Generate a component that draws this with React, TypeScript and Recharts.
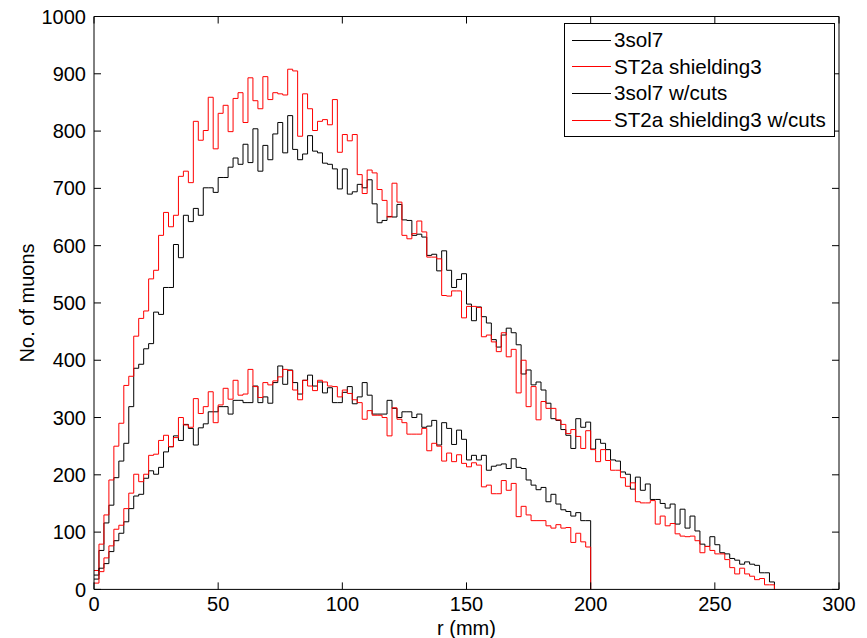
import { LineChart, Line, XAxis, YAxis, Legend, Label } from "recharts";

const FONT = "'Liberation Sans', Arial, Helvetica, sans-serif";

// histogram bins are 2 mm wide, starting at r = 0
const BIN_MM = 2;

const SOL7 = [
  25, 68, 116, 147, 195, 224, 255, 319, 386, 393, 420, 429, 484, 480, 527, 527, 602, 579, 653, 642,
  665, 653, 701, 701, 693, 719, 719, 737, 753, 742, 777, 745, 804, 730, 775, 750, 795, 815, 762, 827,
  768, 750, 760, 792, 765, 762, 744, 742, 734, 699, 734, 690, 694, 707, 701, 715, 673, 640, 644, 651,
  650, 672, 645, 644, 618, 620, 615, 583, 585, 556, 591, 557, 527, 541, 551, 498, 469, 493, 476, 465,
  436, 423, 444, 456, 448, 427, 376, 383, 357, 362, 348, 325, 298, 295, 279, 269, 246, 298, 283, 292,
  245, 262, 255, 244, 226, 224, 205, 201, 175, 196, 173, 184, 157, 157, 150, 142, 149, 114, 140, 107,
  128, 102, 79, 75, 92, 78, 64, 62, 54, 51, 44, 48, 44, 42, 29, 29, 13,
];

const ST2A = [
  33, 79, 130, 191, 250, 290, 356, 372, 442, 473, 486, 542, 557, 618, 658, 633, 653, 721, 730, 710,
  817, 784, 801, 859, 769, 831, 845, 799, 857, 867, 815, 893, 853, 839, 895, 855, 867, 865, 863, 908,
  905, 791, 865, 839, 801, 817, 820, 811, 855, 763, 794, 783, 794, 724, 691, 732, 727, 698, 679, 650,
  709, 676, 618, 612, 621, 643, 624, 580, 580, 577, 513, 512, 521, 521, 474, 494, 494, 492, 441, 444,
  432, 415, 448, 406, 419, 343, 400, 319, 354, 296, 328, 316, 316, 296, 288, 272, 279, 267, 246, 277,
  244, 223, 244, 225, 208, 208, 195, 180, 186, 153, 151, 151, 155, 114, 128, 111, 115, 97, 93, 92,
  93, 85, 64, 75, 68, 62, 62, 52, 38, 27, 37, 27, 23, 17, 19, 8, 8,
];

const SOL7_CUTS = [
  18, 37, 45, 66, 85, 98, 118, 141, 163, 166, 194, 207, 201, 213, 240, 249, 268, 260, 288, 281,
  252, 282, 289, 310, 310, 319, 319, 306, 330, 330, 326, 326, 355, 326, 336, 325, 361, 390, 358, 383,
  361, 341, 365, 374, 355, 362, 343, 352, 326, 326, 344, 354, 324, 336, 361, 339, 306, 306, 306, 330,
  316, 300, 310, 310, 300, 306, 283, 285, 295, 252, 291, 281, 253, 278, 262, 226, 234, 226, 234, 208,
  215, 217, 219, 211, 228, 213, 211, 191, 182, 174, 178, 153, 166, 149, 139, 136, 128, 134, 120, 120,
];

const ST2A_CUTS = [
  11, 31, 55, 76, 105, 112, 141, 168, 201, 188, 201, 234, 236, 260, 269, 249, 265, 300, 287, 283,
  333, 307, 319, 345, 291, 322, 351, 332, 365, 339, 341, 384, 354, 335, 361, 357, 364, 371, 384, 382,
  348, 331, 365, 355, 347, 365, 362, 355, 354, 336, 348, 342, 331, 326, 297, 312, 304, 304, 300, 268,
  317, 297, 291, 271, 271, 271, 281, 242, 255, 250, 224, 238, 223, 235, 220, 214, 221, 217, 179, 182,
  167, 167, 190, 173, 185, 127, 145, 130, 120, 120, 120, 111, 107, 113, 107, 108, 82, 98, 83, 74,
];

const X_TICKS = [0, 50, 100, 150, 200, 250, 300];
const Y_TICKS = [0, 100, 200, 300, 400, 500, 600, 700, 800, 900, 1000];

const SERIES = [
  { key: "sol7", name: "3sol7", color: "#000000", values: SOL7 },
  { key: "st2a", name: "ST2a shielding3", color: "#ff0000", values: ST2A },
  { key: "sol7cuts", name: "3sol7 w/cuts", color: "#000000", values: SOL7_CUTS },
  { key: "st2acuts", name: "ST2a shielding3 w/cuts", color: "#ff0000", values: ST2A_CUTS },
];

// one row per bin edge; each series drops to 0 at its last edge
const nBins = Math.max(...SERIES.map((s) => s.values.length));
const data: Record<string, number>[] = [];
for (let i = 0; i <= nBins; i++) {
  const row: Record<string, number> = { r: i * BIN_MM };
  SERIES.forEach((s) => {
    if (i < s.values.length) row[s.key] = s.values[i];
    else if (i === s.values.length) row[s.key] = 0;
  });
  data.push(row);
}

const seriesOrder = (name: string) => SERIES.findIndex((s) => s.name === name);

function LegendBox({ payload }: any) {
  // keep the plotting order, not the alphabetical one
  const items = [...(payload || [])].sort((a: any, b: any) => seriesOrder(a.value) - seriesOrder(b.value));
  return (
    <div
      style={{
        boxSizing: "border-box",
        width: 271,
        border: "1px solid #000",
        background: "#fff",
        padding: "3px 4px 3px 7px",
        fontFamily: FONT,
        fontSize: 20.6,
        color: "#000",
      }}
    >
      {items.map((p: any) => (
        <div key={p.value} style={{ display: "flex", alignItems: "center", height: 26.6 }}>
          <svg width={39} height={3} style={{ display: "block" }}>
            <line x1={0} y1={1.5} x2={39} y2={1.5} stroke={p.color} strokeWidth={1} />
          </svg>
          <span style={{ marginLeft: 3, whiteSpace: "nowrap", lineHeight: "20px" }}>{p.value}</span>
        </div>
      ))}
    </div>
  );
}

const tickStyle = { fontSize: 20, fill: "#000", fontFamily: FONT };
const axisStroke = { stroke: "#000", strokeWidth: 1 };

export default function App() {
  return (
    <div>
      <style>{`body{margin:0;overflow:hidden;background:#fff}`}</style>
      <LineChart
        width={867}
        height={638}
        data={data}
        margin={{ top: 15.5, right: 27, bottom: 8.6, left: 0 }}
      >
        <XAxis
          dataKey="r"
          type="number"
          domain={[0, 300]}
          ticks={X_TICKS}
          interval={0}
          height={40}
          tickSize={-7}
          tickMargin={14.6}
          tick={tickStyle}
          axisLine={axisStroke}
          tickLine={axisStroke}
          allowDataOverflow
        >
          <Label
            content={(props: any) => {
              const vb = props.viewBox || { x: 94, y: 589.4, width: 745 };
              return (
                <text
                  x={vb.x + vb.width / 2}
                  y={vb.y + 38.6}
                  textAnchor="middle"
                  dominantBaseline="central"
                  fontSize={20}
                  fontFamily={FONT}
                  fill="#000"
                >
                  r (mm)
                </text>
              );
            }}
          />
        </XAxis>
        <XAxis
          xAxisId="top"
          orientation="top"
          dataKey="r"
          type="number"
          domain={[0, 300]}
          ticks={X_TICKS}
          interval={0}
          height={1}
          tickSize={-7}
          tickFormatter={() => ""}
          axisLine={axisStroke}
          tickLine={axisStroke}
          allowDataOverflow
        />
        <YAxis
          type="number"
          domain={[0, 1000]}
          ticks={Y_TICKS}
          interval={0}
          width={94}
          tickSize={-7}
          tickMargin={15}
          tick={tickStyle}
          axisLine={axisStroke}
          tickLine={axisStroke}
          allowDataOverflow
        >
          <Label
            content={(props: any) => {
              const vb = props.viewBox || { x: 0, y: 16.5, width: 94, height: 573 };
              const cx = vb.x + 27;
              const cy = vb.y + vb.height / 2;
              return (
                <text
                  x={cx}
                  y={cy}
                  transform={`rotate(-90 ${cx} ${cy})`}
                  textAnchor="middle"
                  dominantBaseline="central"
                  fontSize={20}
                  fontFamily={FONT}
                  fill="#000"
                >
                  No. of muons
                </text>
              );
            }}
          />
        </YAxis>
        <YAxis
          yAxisId="right"
          orientation="right"
          type="number"
          domain={[0, 1000]}
          ticks={Y_TICKS}
          interval={0}
          width={1}
          tickSize={-7}
          tickFormatter={() => ""}
          axisLine={axisStroke}
          tickLine={axisStroke}
          allowDataOverflow
        />
        {SERIES.map((s) => (
          <Line
            key={s.key}
            dataKey={s.key}
            name={s.name}
            type="stepAfter"
            stroke={s.color}
            strokeWidth={1}
            dot={false}
            activeDot={false}
            connectNulls={false}
            isAnimationActive={false}
          />
        ))}
        <Legend
          layout="vertical"
          align="center"
          verticalAlign="middle"
          content={<LegendBox />}
          wrapperStyle={{ left: 564, top: 23, width: 271, height: "auto" }}
        />
      </LineChart>
    </div>
  );
}
